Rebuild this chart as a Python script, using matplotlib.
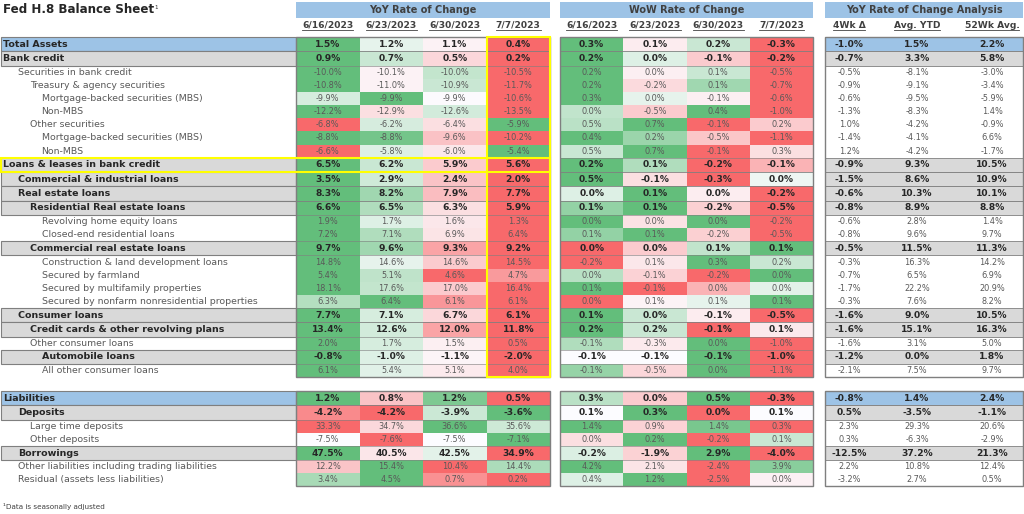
import numpy as np
import matplotlib
matplotlib.use("Agg")
import matplotlib.pyplot as plt
from matplotlib.patches import Rectangle
from matplotlib.lines import Line2D
from matplotlib.colors import to_rgb

# ---------------- data ----------------
title = "Fed H.8 Balance Sheet"
footnote = "¹Data is seasonally adjusted"
dates = ["6/16/2023", "6/23/2023", "6/30/2023", "7/7/2023"]
group_titles = ["YoY Rate of Change", "WoW Rate of Change", "YoY Rate of Change Analysis"]
analysis_headers = ["4Wk Δ", "Avg. YTD", "52Wk Avg."]

labels = [
    "Total Assets", "Bank credit", "Securities in bank credit", "Treasury & agency securities",
    "Mortgage-backed securities (MBS)", "Non-MBS", "Other securities",
    "Mortgage-backed securities (MBS)", "Non-MBS", "Loans & leases in bank credit",
    "Commercial & industrial loans", "Real estate loans", "Residential Real estate loans",
    "Revolving home equity loans", "Closed-end residential loans", "Commercial real estate loans",
    "Construction & land development loans", "Secured by farmland",
    "Secured by multifamily properties", "Secured by nonfarm nonresidential properties",
    "Consumer loans", "Credit cards & other revolving plans", "Other consumer loans",
    "Automobile loans", "All other consumer loans",
    "Liabilities", "Deposits", "Large time deposits", "Other deposits", "Borrowings",
    "Other liabilities including trading liabilities", "Residual (assets less liabilities)",
]
levels = [0, 0, 1, 2, 3, 3, 2, 3, 3, 0, 1, 1, 2, 3, 3, 2, 3, 3, 3, 3, 1, 2, 2, 3, 3,
          0, 1, 2, 2, 1, 1, 1]
row_kind = ["blue", "gray", "plain", "plain", "plain", "plain", "plain", "plain", "plain",
            "gray", "gray", "gray", "gray", "plain", "plain", "gray", "plain", "plain",
            "plain", "plain", "gray", "gray", "plain", "gray", "plain",
            "blue", "gray", "plain", "plain", "gray", "plain", "plain"]

yoy_0616 = [1.5, 0.9, -9.97, -10.8, -9.89, -12.2, -6.8, -8.77, -6.6, 6.5, 3.5, 8.3, 6.6, 1.9,
            7.2, 9.7, 14.8, 5.4, 18.1, 6.3, 7.7, 13.4, 2.0, -0.8, 6.1,
            1.22, -4.18, 33.3, -7.5, 47.5, 12.2, 3.4]
yoy_0623 = [1.2, 0.7, -10.08, -11.0, -9.86, -12.9, -6.2, -8.82, -5.8, 6.2, 2.9, 8.2, 6.5, 1.7,
            7.1, 9.6, 14.62, 5.1, 17.6, 6.4, 7.1, 12.6, 1.7, -1.0, 5.4,
            0.8, -4.22, 34.7, -7.6, 40.5, 15.4, 4.5]
yoy_0630 = [1.1, 0.5, -10.02, -10.9, -9.91, -12.6, -6.4, -9.6, -6.0, 5.9, 2.4, 7.9, 6.3, 1.6,
            6.9, 9.3, 14.56, 4.6, 17.0, 6.12, 6.7, 12.0, 1.5, -1.1, 5.1,
            1.18, -3.9, 36.6, -7.5, 42.5, 10.4, 0.7]
yoy_0707 = [0.4, 0.2, -10.5, -11.7, -10.6, -13.5, -5.9, -10.2, -5.4, 5.6, 2.0, 7.7, 5.9, 1.3,
            6.4, 9.2, 14.5, 4.7, 16.4, 6.08, 6.1, 11.8, 0.5, -2.0, 4.0,
            0.5, -3.6, 35.6, -7.1, 34.9, 14.4, 0.2]

wow_0616 = [0.3, 0.2, 0.2, 0.2, 0.3, 0.0, 0.5, 0.4, 0.5, 0.2, 0.5, 0.02, 0.06, 0.03, 0.06,
            -0.02, -0.2, -0.02, 0.1, 0.0, 0.1, 0.22, -0.1, -0.1, -0.1,
            0.3, 0.1, 1.42, 0.0, -0.2, 4.2, 0.4]
wow_0623 = [0.1, 0.0, 0.0, -0.2, 0.0, -0.5, 0.7, 0.2, 0.7, 0.1, -0.1, 0.1, 0.12, -0.04, 0.12,
            0.03, 0.1, -0.1, -0.06, 0.08, 0.0, 0.16, -0.3, -0.1, -0.5,
            0.0, 0.3, 0.9, 0.2, -1.9, 2.1, 1.2]
wow_0630 = [0.2, -0.1, 0.1, 0.1, -0.1, 0.4, -0.1, -0.5, -0.1, -0.2, -0.3, -0.02, -0.2, 0.03,
            -0.2, 0.08, 0.3, -0.2, -0.04, 0.09, -0.1, -0.1, 0.0, -0.08, 0.0,
            0.5, 0.0, 1.38, -0.2, 2.9, -2.4, -2.5]
wow_0707 = [-0.3, -0.2, -0.5, -0.7, -0.6, -1.0, 0.2, -1.1, 0.3, -0.1, 0.0, -0.2, -0.5, -0.2,
            -0.5, 0.12, 0.2, 0.03, 0.0, 0.12, -0.5, 0.1, -1.0, -1.0, -1.1,
            -0.3, 0.1, 0.3, 0.1, -4.0, 3.9, 0.0]

chg_4wk = [-1.0, -0.7, -0.5, -0.9, -0.6, -1.3, 1.0, -1.4, 1.2, -0.9, -1.5, -0.6, -0.8, -0.6,
           -0.8, -0.5, -0.3, -0.7, -1.7, -0.3, -1.6, -1.6, -1.6, -1.2, -2.1,
           -0.8, 0.5, 2.3, 0.3, -12.5, 2.2, -3.2]
avg_ytd = [1.5, 3.3, -8.1, -9.1, -9.5, -8.3, -4.2, -4.1, -4.2, 9.3, 8.6, 10.3, 8.9, 2.8,
           9.6, 11.5, 16.3, 6.5, 22.2, 7.6, 9.0, 15.1, 3.1, 0.0, 7.5,
           1.4, -3.5, 29.3, -6.3, 37.2, 10.8, 2.7]
avg_52wk = [2.2, 5.8, -3.0, -3.4, -5.9, 1.4, -0.9, 6.6, -1.7, 10.5, 10.9, 10.1, 8.8, 1.4,
            9.7, 11.3, 14.2, 6.9, 20.9, 8.2, 10.5, 16.3, 5.0, 1.8, 9.7,
            2.4, -1.1, 20.6, -2.9, 21.3, 12.4, 0.5]

# ---------------- style / layout ----------------
FONT = "DejaVu Sans"
plt.rcParams["font.family"] = [FONT]
W, H = 1024, 514
BLUE = "#9DC3E6"
GRAY = "#D9D9D9"
GREEN = np.array(to_rgb("#63BE7B"))
RED = np.array(to_rgb("#F8696B"))
MIDC = np.array(to_rgb("#FCFCFF"))
EDGE = "#7F7F7F"
TXT_DARK = "#262626"
TXT_LIGHT = "#595959"

TOP_ASSETS, TOP_LIAB = 37.0, 391.0
H_BOLD, H_NORM = 14.3, 13.15
N_ASSETS = 25
LAB_X0, LAB_X1 = 0.5, 296.0
YOY_X0, YOY_X1 = 296.0, 550.0
WOW_X0, WOW_X1 = 560.0, 813.0
ANA_X0, ANA_X1 = 825.0, 1023.0
ANA_CENTERS = [849, 917, 992]
INDENT = [3, 18.5, 30, 41.5]
BAND_Y0, BAND_Y1 = 1.5, 18.0
DATE_Y = 25.5

FS_LAB, FS_LAB_B = 6.75, 6.8
FS_VAL, FS_VAL_B = 5.9, 6.6


def fmt(v):
    return f"{round(v, 1) + 0.0:.1f}%"


def scale_color(v, vals):
    lo, hi = min(vals), max(vals)
    mid = float(np.percentile(vals, 50))
    if v >= mid:
        t = (v - mid) / (hi - mid) if hi > mid else 0.0
        c = MIDC + (GREEN - MIDC) * t
    else:
        t = (mid - v) / (mid - lo) if mid > lo else 0.0
        c = MIDC + (RED - MIDC) * t
    return tuple(np.clip(c, 0, 1))


fig = plt.figure(figsize=(W / 100, H / 100), dpi=100)
ax = fig.add_axes([0, 0, 1, 1])
ax.set_xlim(0, W)
ax.set_ylim(H, 0)
ax.axis("off")

# row geometry
tops, hts = [], []
y = TOP_ASSETS
for i, k in enumerate(row_kind):
    if i == N_ASSETS:
        y = TOP_LIAB
    h = H_NORM if k == "plain" else H_BOLD
    tops.append(y)
    hts.append(h)
    y += h

# title
t_title = ax.text(3, 9.5, title, fontsize=8.6, fontweight="bold", color="#262626",
                  va="center", ha="left")
ax.text(3, 507, footnote, fontsize=5.2, color="#404040", va="center", ha="left")

# header bands and dates
blocks = [(YOY_X0, YOY_X1), (WOW_X0, WOW_X1), (ANA_X0, ANA_X1)]
for (x0, x1), gt in zip(blocks, group_titles):
    ax.add_patch(Rectangle((x0, BAND_Y0), x1 - x0, BAND_Y1 - BAND_Y0, facecolor=BLUE,
                           edgecolor="none", zorder=1))
    ax.text((x0 + x1) / 2, (BAND_Y0 + BAND_Y1) / 2 + 0.5, gt, fontsize=7, fontweight="bold",
            color="#404040", ha="center", va="center", zorder=3)

date_texts = []
for (x0, x1) in blocks[:2]:
    cw = (x1 - x0) / len(dates)
    for j, d in enumerate(dates):
        date_texts.append(ax.text(x0 + cw * (j + 0.5), DATE_Y, d, fontsize=6.6,
                                  fontweight="bold", color="#404040", ha="center",
                                  va="center"))
for cx, hd in zip(ANA_CENTERS, analysis_headers):
    date_texts.append(ax.text(cx, DATE_Y, hd, fontsize=6.6, fontweight="bold",
                              color="#404040", ha="center", va="center"))

# label column
for i, lab in enumerate(labels):
    k = row_kind[i]
    y0, h = tops[i], hts[i]
    if k != "plain":
        ax.add_patch(Rectangle((LAB_X0, y0), LAB_X1 - LAB_X0, h,
                               facecolor=BLUE if k == "blue" else GRAY,
                               edgecolor=EDGE, linewidth=0.8, zorder=2))
    bold = k != "plain"
    ax.text(INDENT[levels[i]], y0 + h / 2, lab, fontsize=FS_LAB_B if bold else FS_LAB,
            fontweight="bold" if bold else "normal",
            color=TXT_DARK if bold else TXT_LIGHT, ha="left", va="center", zorder=4)

# heatmap blocks
heat_blocks = [((YOY_X0, YOY_X1), [yoy_0616, yoy_0623, yoy_0630, yoy_0707]),
               ((WOW_X0, WOW_X1), [wow_0616, wow_0623, wow_0630, wow_0707])]
for (x0, x1), cols in heat_blocks:
    cw = (x1 - x0) / len(cols)
    for i in range(len(labels)):
        vals = [c[i] for c in cols]
        bold = row_kind[i] != "plain"
        for j, v in enumerate(vals):
            ax.add_patch(Rectangle((x0 + j * cw, tops[i]), cw, hts[i],
                                   facecolor=scale_color(v, vals), edgecolor="none",
                                   zorder=1))
            ax.text(x0 + (j + 0.5) * cw, tops[i] + hts[i] / 2, fmt(v),
                    fontsize=FS_VAL_B if bold else FS_VAL,
                    fontweight="bold" if bold else "normal",
                    color=TXT_DARK if bold else TXT_LIGHT, ha="center", va="center",
                    zorder=4)
        if bold:
            for yy in (tops[i], tops[i] + hts[i]):
                ax.add_line(Line2D([x0, x1], [yy, yy], color=EDGE, linewidth=0.6,
                                   alpha=0.7, zorder=2))

# analysis block
ana_cols = [chg_4wk, avg_ytd, avg_52wk]
for i in range(len(labels)):
    k = row_kind[i]
    if k != "plain":
        ax.add_patch(Rectangle((ANA_X0, tops[i]), ANA_X1 - ANA_X0, hts[i],
                               facecolor=BLUE if k == "blue" else GRAY,
                               edgecolor=EDGE, linewidth=0.6, zorder=1))
    bold = k != "plain"
    for cx, col in zip(ANA_CENTERS, ana_cols):
        ax.text(cx, tops[i] + hts[i] / 2, fmt(col[i]),
                fontsize=FS_VAL_B if bold else FS_VAL,
                fontweight="bold" if bold else "normal",
                color=TXT_DARK if bold else TXT_LIGHT, ha="center", va="center", zorder=4)

# block outlines
sections = [(0, N_ASSETS), (N_ASSETS, len(labels))]
for a, b in sections:
    y0 = tops[a]
    y1 = tops[b - 1] + hts[b - 1]
    for x0, x1 in blocks:
        ax.add_patch(Rectangle((x0, y0), x1 - x0, y1 - y0, facecolor="none",
                               edgecolor=EDGE, linewidth=1.0, zorder=5))

# yellow highlights
cw = (YOY_X1 - YOY_X0) / 4
ya0 = tops[0]
ya1 = tops[N_ASSETS - 1] + hts[N_ASSETS - 1]
ax.add_patch(Rectangle((YOY_X0 + 3 * cw, ya0), cw, ya1 - ya0, facecolor="none",
                       edgecolor="#FFFF00", linewidth=1.5, zorder=6))
iL = labels.index("Loans & leases in bank credit")
ax.add_patch(Rectangle((LAB_X0, tops[iL]), YOY_X1 - LAB_X0, hts[iL], facecolor="none",
                       edgecolor="#FFFF00", linewidth=1.5, zorder=6))

# underlines for dates and the title superscript
fig.canvas.draw()
r = fig.canvas.get_renderer()
inv = ax.transData.inverted()
for t in date_texts:
    bb = t.get_window_extent(r)
    (xa, ya), (xb, yb) = inv.transform([[bb.x0, bb.y0], [bb.x1, bb.y1]])
    ax.add_line(Line2D([xa, xb], [ya + 0.3, ya + 0.3], color="#404040", linewidth=0.6))
bb = t_title.get_window_extent(r)
(xa, ya), (xb, yb) = inv.transform([[bb.x0, bb.y0], [bb.x1, bb.y1]])
ax.text(xb + 0.5, yb + 2, "1", fontsize=4.0, color="#262626", ha="left", va="top")

fig.savefig("out.png", dpi=100)
